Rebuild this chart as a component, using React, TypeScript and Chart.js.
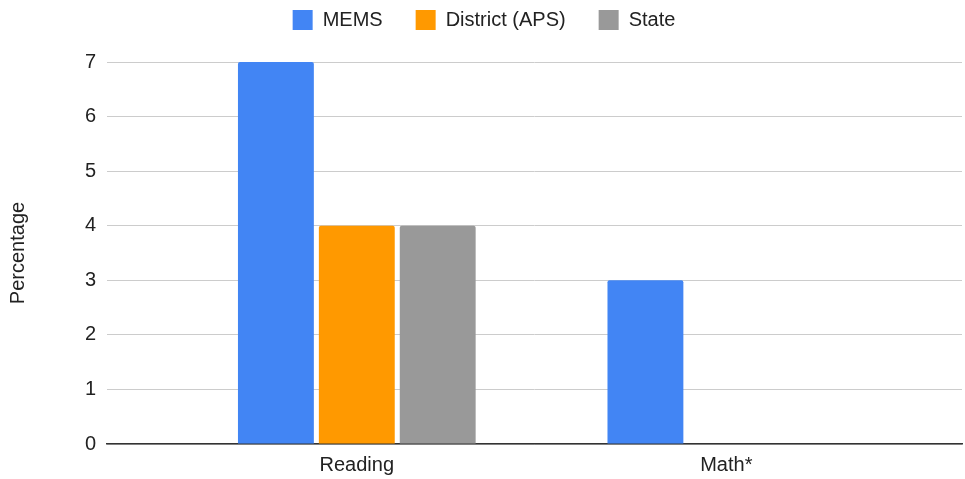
import React, { useEffect, useRef } from "react";
import { Chart, registerables } from "chart.js";

Chart.register(...registerables);

const categories = ["Reading", "Math*"];
const seriesNames = ["MEMS", "District (APS)", "State"];
const memsValues = [7, 3];
const districtValues = [4, 0];
const stateValues = [4, 0];
const yMin = 0;
const yMax = 7;
const yStep = 1;
const yTitle = "Percentage";

const colors = ["#4285F4", "#FF9900", "#999999"];
const FONT = "'Liberation Sans', Arial, sans-serif";

export default function App() {
  const ref = useRef<HTMLCanvasElement | null>(null);

  useEffect(() => {
    if (!ref.current) return;
    const legendSpacer = {
      id: "legendSpacer",
      beforeInit(chart: any) {
        const orig = chart.legend.fit;
        chart.legend.fit = function () {
          orig.call(this);
          this.height += 22;
        };
      },
    };
    const values = [memsValues, districtValues, stateValues];
    const chart = new Chart(ref.current, {
      type: "bar",
      data: {
        labels: categories,
        datasets: seriesNames.map((name, i) => ({
          label: name,
          data: values[i],
          backgroundColor: colors[i],
          borderWidth: 0,
          borderRadius: 2,
          borderSkipped: "start" as const,
          categoryPercentage: 0.6568,
          barPercentage: 0.938,
        })),
      },
      options: {
        animation: false,
        responsive: false,
        maintainAspectRatio: false,
        layout: { padding: { top: -23, left: 6, right: 3, bottom: -7 } },
        plugins: {
          legend: {
            position: "top",
            align: "center",
            labels: {
              boxWidth: 20,
              boxHeight: 20,
              padding: 33,
              color: "#222",
              font: { family: FONT, size: 20 },
            },
          },
          tooltip: { enabled: false },
        },
        scales: {
          x: {
            offset: true,
            afterBuildTicks: (scale: any) => {
              scale._startValue = -0.6757;
              scale._valueRange = 2.3135;
            },
            grid: { display: false, drawTicks: false },
            border: { display: true, color: "#333", width: 1.5 },
            ticks: {
              padding: 9,
              color: "#222",
              font: { family: FONT, size: 20 },
            },
          },
          y: {
            min: yMin,
            max: yMax,
            grid: { color: "#cccccc", lineWidth: 1, drawTicks: false },
            border: { display: false },
            ticks: {
              stepSize: yStep,
              padding: 11,
              color: "#222",
              font: { family: FONT, size: 20 },
            },
            title: {
              display: true,
              text: yTitle,
              color: "#222",
              font: { family: FONT, size: 20 },
              padding: { top: 0, bottom: 44 },
            },
          },
        },
      },
      plugins: [legendSpacer],
    });
    return () => chart.destroy();
  }, []);

  return (
    <div style={{ position: "fixed", left: 0, top: 0, width: 965, height: 479, background: "#fff" }}>
      <canvas ref={ref} width={965} height={479} style={{ display: "block" }} />
    </div>
  );
}
